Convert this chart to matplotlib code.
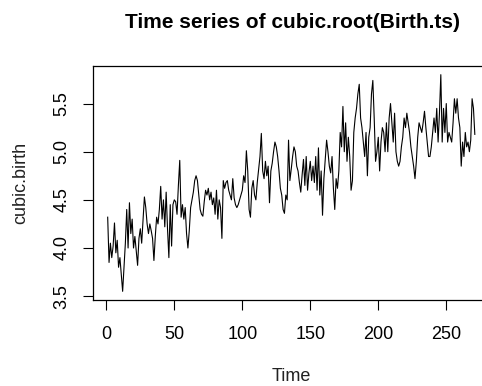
import numpy as np
import matplotlib
matplotlib.use("Agg")
import matplotlib.pyplot as plt

# ==========================
# DATA
# ==========================
cubic_birth = [
    4.32, 3.85, 4.05, 3.90, 4.02, 4.26, 3.95, 4.08, 3.80, 3.90,
    3.72, 3.55, 3.80, 4.05, 4.40, 4.00, 4.47, 4.15, 4.30, 4.00,
    4.12, 3.97, 3.82, 4.10, 4.20, 4.05, 4.30, 4.53, 4.42, 4.25,
    4.15, 4.25, 4.18, 4.10, 3.87, 4.12, 4.32, 4.25, 4.40, 4.64,
    4.30, 4.50, 4.22, 4.58, 4.20, 3.90, 4.45, 4.02, 4.45, 4.50,
    4.48, 4.35, 4.65, 4.91, 4.32, 4.45, 4.30, 4.42, 4.15, 4.00,
    4.18, 4.42, 4.50, 4.58, 4.70, 4.75, 4.70, 4.55, 4.40, 4.35,
    4.33, 4.48, 4.60, 4.55, 4.62, 4.50, 4.58, 4.45, 4.52, 4.35,
    4.60, 4.30, 4.50, 4.42, 4.10, 4.70, 4.62, 4.68, 4.70, 4.60,
    4.55, 4.50, 4.72, 4.52, 4.45, 4.42, 4.45, 4.50, 4.55, 4.60,
    4.75, 4.68, 5.01, 4.80, 4.40, 4.32, 4.62, 4.70, 4.55, 4.50,
    4.68, 4.82, 4.95, 5.19, 4.80, 4.72, 4.90, 4.75, 4.85, 4.47,
    4.80, 4.88, 5.00, 5.10, 5.05, 4.95, 4.80, 4.62, 4.55, 4.40,
    4.36, 4.55, 4.50, 5.12, 4.70, 4.82, 4.95, 5.05, 5.00, 4.85,
    4.80, 4.68, 4.58, 4.76, 4.92, 4.65, 4.95, 4.60, 4.78, 4.90,
    4.70, 4.85, 4.68, 4.95, 4.60, 5.04, 4.55, 4.80, 4.34, 4.72,
    4.92, 5.12, 5.00, 4.85, 4.78, 4.95, 4.62, 4.40, 4.72, 4.62,
    4.80, 5.20, 5.05, 5.47, 5.00, 5.30, 4.90, 5.15, 4.95, 4.60,
    4.70, 5.20, 5.35, 5.45, 5.60, 5.70, 5.35, 5.25, 5.10, 4.95,
    5.20, 4.75, 5.15, 5.25, 5.60, 5.74, 5.35, 4.90, 5.00, 5.15,
    4.80, 5.10, 5.25, 5.20, 5.00, 5.30, 5.00, 5.35, 5.50, 5.30,
    5.10, 5.40, 5.00, 4.90, 4.85, 4.90, 5.05, 5.15, 5.35, 5.25,
    5.40, 5.30, 5.20, 5.05, 4.95, 4.85, 4.72, 4.90, 5.15, 5.30,
    5.25, 5.20, 5.30, 5.42, 5.25, 5.10, 4.95, 4.95, 5.05, 5.20,
    5.35, 5.20, 5.45, 5.10, 5.40, 5.80, 5.10, 5.45, 5.20, 5.50,
    5.10, 5.20, 5.15, 5.10, 5.30, 5.55, 5.40, 5.55, 5.35, 5.25,
    4.85, 5.10, 4.95, 5.20, 5.05, 5.10, 5.00, 5.12, 5.55, 5.45,
    5.18,
]
time = np.arange(1, len(cubic_birth) + 1)

x_ticks = [0, 50, 100, 150, 200, 250]
y_ticks = [3.5, 4.0, 4.5, 5.0, 5.5]

TITLE = "Time series of cubic.root(Birth.ts)"
XLABEL = "Time"
YLABEL = "cubic.birth"

# ==========================
# PLOT
# ==========================
plt.rcParams["font.family"] = ["Liberation Sans", "DejaVu Sans"]

W, H = 482, 386
fig = plt.figure(figsize=(W / 100, H / 100), dpi=100)
ax = fig.add_axes([93 / W, 1 - 300 / H, (489.5 - 93) / W, (300 - 66) / H])

ax.plot(time, cubic_birth, color="black", lw=0.8)

# R-style 4% padding
n = len(cubic_birth)
ax.set_xlim(1 - 0.04 * (n - 1), n + 0.04 * (n - 1))
lo, hi = min(cubic_birth), max(cubic_birth)
ax.set_ylim(lo - 0.04 * (hi - lo), hi + 0.04 * (hi - lo))

ax.set_xticks(x_ticks)
ax.set_yticks(y_ticks)
ax.set_yticklabels([f"{v:.1f}" for v in y_ticks], rotation=90, va="center")

ax.tick_params(axis="both", direction="out", length=7, width=0.8,
               labelsize=13, colors="black")
ax.tick_params(axis="x", pad=11.5)
ax.tick_params(axis="y", pad=9)

for s in ax.spines.values():
    s.set_linewidth(0.9)
    s.set_color("black")

fig.text(292.5 / W, 1 - 22.7 / H, TITLE, ha="center", va="center",
         fontsize=15, fontweight="bold")
fig.text(291.5 / W, 1 - 376.7 / H, XLABEL, ha="center", va="center",
         fontsize=13, color="#222222")
fig.text(20.7 / W, 1 - 183 / H, YLABEL, ha="center", va="center",
         rotation=90, fontsize=13, color="#222222")

fig.savefig("out.png", dpi=100)
